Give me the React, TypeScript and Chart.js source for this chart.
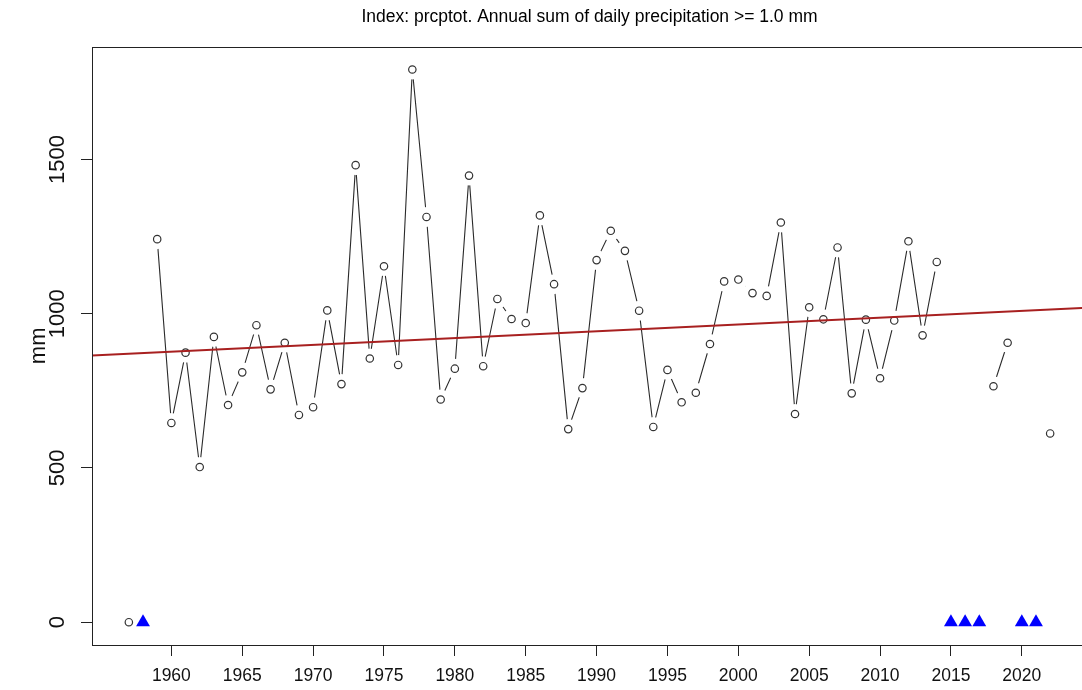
import React, { useEffect, useRef } from "react";
import { Chart, registerables } from "chart.js";

Chart.register(...registerables);

const years: number[] = [
  1957, 1958, 1959, 1960, 1961, 1962, 1963, 1964, 1965, 1966, 1967, 1968, 1969,
  1970, 1971, 1972, 1973, 1974, 1975, 1976, 1977, 1978, 1979, 1980, 1981, 1982,
  1983, 1984, 1985, 1986, 1987, 1988, 1989, 1990, 1991, 1992, 1993, 1994, 1995,
  1996, 1997, 1998, 1999, 2000, 2001, 2002, 2003, 2004, 2005, 2006, 2007, 2008,
  2009, 2010, 2011, 2012, 2013, 2014, 2015, 2016, 2017, 2018, 2019, 2020, 2021,
  2022,
];

const prcptot: (number | null)[] = [
  0, null, 1242, 646, 874, 503, 925, 704, 810, 963, 755, 906, 672,
  697, 1011, 772, 1482, 855, 1154, 834, 1792, 1314, 722, 822, 1448, 830,
  1048, 983, 970, 1319, 1096, 626, 759, 1174, 1269, 1204, 1010, 633, 818,
  713, 744, 902, 1105, 1111, 1067, 1058, 1296, 675, 1021, 982, 1215, 742,
  981, 791, 978, 1235, 930, 1168, null, null, null, 765, 906, null, null,
  612,
];

const trendYears: number[] = [1954.4, 2024.6];
const trendValues: number[] = [864.9, 1019.3];

const xTickValues: number[] = [1960, 1965, 1970, 1975, 1980, 1985, 1990, 1995, 2000, 2005, 2010, 2015, 2020];
const yTickValues: number[] = [0, 500, 1000, 1500];

const titleText = "Index: prcptot. Annual sum of daily precipitation >= 1.0 mm";
const yLabel = "mm";

const FONT = '"Liberation Sans", Arial, Helvetica, sans-serif';

const boxPlugin = {
  id: "rbox",
  afterDraw(chart: any) {
    const { ctx, chartArea } = chart;
    const ys = chart.scales.y;
    ctx.save();
    ctx.strokeStyle = "#222";
    ctx.lineWidth = 1;
    ctx.strokeRect(
      Math.round(chartArea.left) + 0.5,
      Math.round(chartArea.top) + 0.5,
      chartArea.right - chartArea.left,
      Math.round(chartArea.bottom) - Math.round(chartArea.top)
    );
    ctx.fillStyle = "#111";
    ctx.font = `22px ${FONT}`;
    ctx.textAlign = "center";
    ctx.textBaseline = "middle";
    ys.ticks.forEach((t: any) => {
      const py = ys.getPixelForValue(t.value);
      ctx.save();
      ctx.translate(57.5, py);
      ctx.rotate(-Math.PI / 2);
      ctx.fillText(String(t.value), 0, 0);
      ctx.restore();
    });
    ctx.save();
    ctx.translate(39, (chartArea.top + chartArea.bottom) / 2);
    ctx.rotate(-Math.PI / 2);
    ctx.font = `22px ${FONT}`;
    ctx.fillText(yLabel, 0, 0);
    ctx.restore();
    ctx.restore();
  },
};

export default function App() {
  const canvasRef = useRef<HTMLCanvasElement | null>(null);

  useEffect(() => {
    const canvas = canvasRef.current;
    if (!canvas) return;
    const seriesPoints = years.map((yr, i) => ({ x: yr, y: prcptot[i] }));
    const presentPoints = years
      .map((yr, i) => ({ x: yr, y: prcptot[i] }))
      .filter((p) => p.y !== null);
    const missingPoints = years
      .filter((_, i) => prcptot[i] === null)
      .map((yr) => ({ x: yr, y: 0 }));
    const trendPoints = trendYears.map((yr, i) => ({ x: yr, y: trendValues[i] }));

    const chart = new Chart(canvas, {
      type: "line",
      data: {
        datasets: [
          {
            label: "trend",
            data: trendPoints,
            borderColor: "#a82020",
            borderWidth: 2,
            pointRadius: 0,
            order: 0,
          },
          {
            label: "missing",
            data: missingPoints,
            showLine: false,
            pointStyle: "triangle",
            pointRadius: 8,
            pointBackgroundColor: "#0000ff",
            pointBorderColor: "#0000ff",
            pointBorderWidth: 0,
            order: 1,
          },
          {
            label: "points",
            data: presentPoints as any,
            showLine: false,
            pointStyle: "circle",
            pointRadius: 3.7,
            pointBackgroundColor: "#ffffff",
            pointBorderColor: "#333333",
            pointBorderWidth: 1.2,
            order: 2,
          },
          {
            label: "gap",
            data: presentPoints as any,
            showLine: false,
            pointStyle: "circle",
            pointRadius: 10,
            pointBackgroundColor: "#ffffff",
            pointBorderColor: "#ffffff",
            pointBorderWidth: 0,
            order: 3,
          },
          {
            label: "series",
            data: seriesPoints as any,
            borderColor: "#2a2a2a",
            borderWidth: 1.1,
            pointRadius: 0,
            spanGaps: false,
            order: 4,
          },
        ],
      },
      options: {
        animation: false,
        responsive: false,
        maintainAspectRatio: false,
        layout: { padding: { top: 0, left: 0, right: 13, bottom: 0 } },
        plugins: {
          legend: { display: false },
          tooltip: { enabled: false },
          title: {
            display: true,
            text: titleText,
            fullSize: false,
            color: "#000",
            font: { family: FONT, size: 17.5, weight: "normal" },
            padding: { top: 6.7, bottom: 19 },
          },
        },
        scales: {
          x: {
            type: "linear",
            min: 1954.4,
            max: 2024.6,
            afterFit: (s: any) => {
              s.height = 45;
            },
            afterBuildTicks: (s: any) => {
              s.ticks = xTickValues.map((v) => ({ value: v }));
            },
            grid: {
              display: true,
              drawOnChartArea: false,
              drawTicks: true,
              tickLength: 11,
              color: "#222",
              lineWidth: 1,
            },
            border: { display: false },
            ticks: {
              autoSkip: false,
              maxRotation: 0,
              minRotation: 0,
              padding: 10,
              color: "#111",
              font: { family: FONT, size: 17.5 },
              callback: (v: any) => String(v),
            },
          },
          y: {
            type: "linear",
            min: -74,
            max: 1866,
            afterFit: (s: any) => {
              s.width = 92;
            },
            afterBuildTicks: (s: any) => {
              s.ticks = yTickValues.map((v) => ({ value: v }));
            },
            grid: {
              display: true,
              drawOnChartArea: false,
              drawTicks: true,
              tickLength: 11,
              color: "#222",
              lineWidth: 1,
            },
            border: { display: false },
            ticks: { display: false },
          },
        },
      },
      plugins: [boxPlugin],
    });
    return () => chart.destroy();
  }, []);

  return (
    <div
      style={{
        position: "fixed",
        left: 0,
        top: 0,
        width: 1082,
        height: 690,
        overflow: "hidden",
        background: "#ffffff",
      }}
    >
      <canvas
        ref={canvasRef}
        width={1100}
        height={690}
        style={{ width: 1100, height: 690, display: "block" }}
      />
    </div>
  );
}
